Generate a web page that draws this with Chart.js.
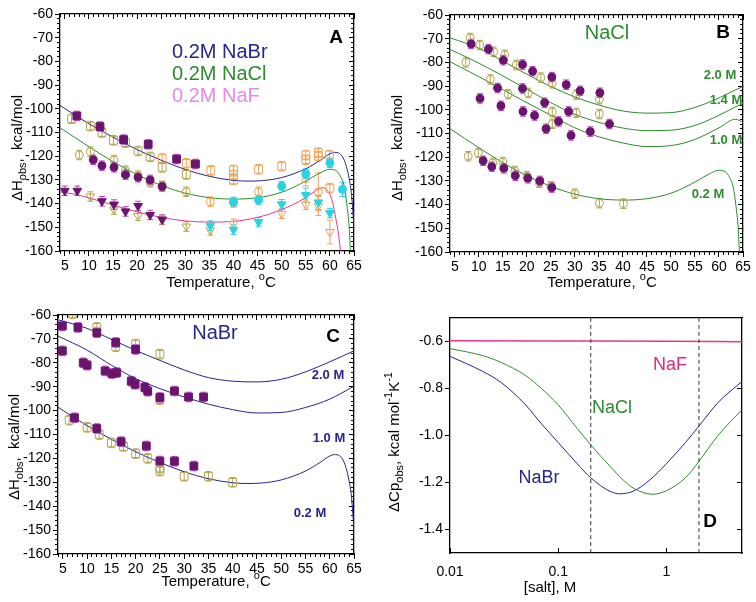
<!DOCTYPE html>
<html>
<head>
<meta charset="UTF-8">
<title>ΔH obs vs temperature and salt</title>
<script src="https://cdn.jsdelivr.net/npm/chart.js"></script>
<style>
  body { margin: 0; background: #fff; }
  #wrap { position: relative; width: 756px; height: 602px; }
  canvas { position: absolute; }
  canvas.over { pointer-events: none; }
</style>
</head>
<body>
<div id="wrap">
  <canvas id="cA" width="378" height="301" style="left:0;top:0"></canvas>
  <canvas id="cB" width="378" height="301" style="left:378px;top:0"></canvas>
  <canvas id="cC" width="378" height="301" style="left:0;top:301px"></canvas>
  <canvas id="cD" width="378" height="301" style="left:378px;top:301px"></canvas>
  <canvas id="oA" class="over" width="378" height="301" style="left:0;top:0"></canvas>
  <canvas id="oB" class="over" width="378" height="301" style="left:378px;top:0"></canvas>
  <canvas id="oC" class="over" width="378" height="301" style="left:0;top:301px"></canvas>
  <canvas id="oD" class="over" width="378" height="301" style="left:378px;top:301px"></canvas>
</div>
<script>
// ---- axes ----
const tempTicks = [5, 10, 15, 20, 25, 30, 35, 40, 45, 50, 55, 60, 65];
const dhTicks = [-160, -150, -140, -130, -120, -110, -100, -90, -80, -70, -60];
const saltTicks = [0.01, 0.1, 1];
const cpTicks = [-1.4, -1.2, -1.0, -0.8, -0.6];

// ---- panel A : 0.2 M salts, points [T, dH, err] ----
const brFilled = [[7.5,-103],[12.3,-107.5],[17.2,-113],[22.3,-115],[28.2,-121.2],[32.1,-123.3]];
const brOpen = [[6.4,-104.2],[10.3,-107.3],[12.7,-110],[15.1,-113.3],[17.6,-114.3],[20.2,-117.8],[22.7,-120.3],[25.2,-124.7],[30.2,-127.7]];
const brHigh = [[25.2,-121],[30.2,-123],[35.3,-126],[40,-125.8],[40,-127.9],[40,-130],[45.2,-125.5],[50,-124.2],[55,-119.5],[55,-121.5],[57.6,-118.5],[57.6,-120],[59.9,-119.5],[60,-133.5]];
const clFilled = [[10.9,-121.5],[12.7,-124],[15.2,-124.7],[17.6,-127.8],[20.2,-128.9],[22.7,-130],[25.2,-132.8]];
const clOpen = [[8,-119.5],[10.3,-118.1],[15.2,-121.6],[17.6,-126.1],[20.2,-128.2],[22.7,-131],[25.2,-132.5],[30.2,-135]];
const clHigh = [[35.2,-139.2],[40,-139.5],[45.2,-135],[55,-129.5,3],[57.6,-135,8]];
const clCyan = [[40,-139.3],[45.2,-138.5],[50,-132.6],[55,-127.4],[60,-122.8],[62.6,-134,3]];
const fFilled = [[5,-134.6],[7.6,-134.6],[12.7,-139],[15.2,-140.4],[17.6,-143.3],[20.2,-141],[22.7,-144.8],[25.2,-146.7]];
const fOpen = [[10.3,-137],[15.2,-142.5],[20.2,-145.2],[25.2,-146.9],[30.2,-149.7],[35.2,-151.3]];
const fCyan = [[35.2,-149.3],[40,-151],[45.2,-147.8],[50,-140.3],[55,-136.4,3],[57.6,-139.5,3],[60,-144]];
const fHigh = [[40,-148.5],[50,-144.3],[55,-140.5],[57.6,-141,4],[60,-152,5]];

// fitted curves
const brCurveT = [4,7,10,15,20,25,30,35,40,43,46,50,55,58,60,61,62,63,64,64.5,65];
const brCurve02 = [-98.6,-102.5,-106.3,-112,-117.2,-121.7,-125.6,-128.5,-130.2,-130.5,-130.3,-129,-125.3,-121.7,-119,-118.4,-118.9,-121.8,-129.5,-136.5,-150];
const clCurveT = [4,7,10,15,20,25,30,35,40,45,50,55,58,60,61,62,63,63.5,64,64.3];
const clCurve02 = [-108,-112,-116,-122.3,-127.8,-132.3,-135.6,-137.5,-138.1,-137.5,-135.2,-130.5,-127,-125.5,-125.8,-127.8,-133,-140,-150,-162];
const fCurveT = [4,7,10,15,20,25,30,35,40,45,50,55,57,58.5,59.5,60.5,61.2,61.8,62.3];
const fCurve02 = [-135,-136,-137.6,-140.6,-143.5,-145.8,-147.3,-147.8,-147.5,-145.8,-142.5,-137.5,-134.6,-133.3,-134.5,-139,-146,-153,-162];

// ---- panel B : NaCl ----
const bFilled = [[8.4,-72.2],[12,-74.4],[15.1,-79.1],[19.1,-80.9],[21.2,-83.7],[25.2,-86.2],[28.2,-89.4],[31.1,-92],[35.2,-92.8],
  [10.25,-95.2],[13.9,-90.8],[14.6,-98.3],[19.1,-91],[19.2,-100.7],[21.6,-102.4],[23.7,-97],[26.6,-104.9],[28.7,-100.7],[24,-108],[29.2,-110.8],[33.2,-109.2],[37.2,-106]];
const bOpen = [[7.3,-80],[8.2,-69.7],[10.2,-72.7],[12.4,-87.2],[13.1,-75.5],[16.1,-93.4],[15.4,-76.8],[17.8,-81.1],[20.3,-92.9],[22.9,-86.4],[25.3,-88.8],[25.3,-100.9],[25.3,-105.9],[30.3,-93.6],[30.3,-101.3],[35.1,-95.5],[35.1,-101.8]];
const bLowOpen = [[7.8,-119.6],[9.9,-118.2],[12.9,-122.4],[15,-122],[17.5,-125.8],[20,-128],[22.6,-130.8],[25,-132.3],[30,-135.4],[35.1,-139.4],[40.1,-139.6]];
const bCurveT = [4,10,15,20,25,30,35,40,45,50,55,60,63.4,65];
const bCurve20 = [-69.6,-74,-79.5,-85,-90.2,-94.6,-98,-100.5,-101.4,-101.2,-99,-95,-91.6,-90.2];
const bCurve14 = [-74.5,-80.3,-85.7,-91.3,-97,-101.9,-105.3,-107.7,-108.8,-108.6,-106.6,-102.3,-98.8,-97.3];
const bCurve10 = [-79.7,-86,-91.5,-97,-102.3,-107.6,-111.4,-114,-115.5,-115.1,-112.5,-107.6,-104,-105.2];

// ---- panel C : NaBr ----
const cFilled = [[4.9,-64.6],[8.1,-65.2],[12,-67.4],[15.9,-71.5],[20,-74.4],[4.9,-75],[9.2,-80],[10,-81],[13.7,-83.4],[15.1,-84.5],[16.1,-84.1],
  [19.1,-87.7],[19.9,-89],[21.9,-90.3],[22.5,-91.9],[25,-94.5],[28,-91.8],[30.9,-94.3],[34,-94.3]];
const cOpen = [[7,-59.5],[12,-65.2],[15.9,-73.3],[20,-72.2],[25,-76.4],[25,-95.4]];
const cLowFilled = [[7.4,-103],[12,-107.5],[17,-113],[22.2,-114.8],[25,-121.1],[28,-121.2],[32,-123.2]];
const cLowOpen = [[6.3,-104],[10,-107],[12.5,-110],[15,-113.5],[17.5,-115],[20,-118],[22.5,-120],[25,-124],[25,-125.3],[30,-127.5],[35,-127.5],[40,-130]];
const cCurveT = [4,10,15,20,25,30,35,40,45,50,55,60,65];
const cCurve20 = [-62,-65.6,-70.2,-74.8,-79,-83,-86.2,-87.7,-88,-86.9,-83.8,-79.6,-75];
const cCurve10 = [-68.8,-74.7,-81,-86.6,-90.8,-94.3,-97.3,-99.6,-101,-100.8,-98.7,-95.2,-89.8];

// ---- panel D : dCp vs [salt] ----
const saltBr = [0.01,0.02,0.03,0.05,0.07,0.1,0.15,0.2,0.3,0.37,0.5,0.7,1,1.5,2,3,5];
const cpBr = [-0.663,-0.727,-0.776,-0.87,-0.95,-1.03,-1.12,-1.18,-1.237,-1.248,-1.236,-1.19,-1.12,-1.03,-0.96,-0.86,-0.77];
const saltCl = [0.01,0.02,0.03,0.05,0.07,0.1,0.15,0.2,0.3,0.4,0.5,0.75,1,1.5,2,3,5];
const cpCl = [-0.63,-0.66,-0.69,-0.745,-0.8,-0.87,-0.97,-1.04,-1.13,-1.19,-1.225,-1.25,-1.235,-1.18,-1.11,-1.0,-0.89];
const saltF = [0.01, 0.1, 1, 5];
const cpF = [-0.597, -0.598, -0.599, -0.601];
const saltMarks = [0.2, 2];

// ---- styling ----
const FONT = '"Liberation Sans", Arial, sans-serif';
const NAVY = '#25258c', GREEN = '#2c8c2c', PINK = '#e8358e';
const PURPLE = '#6a1470', PURPLE_ERR = '#c040c0', OLIVE = '#b5a550', ORANGE = '#f2a255', CYAN = '#2ad2e2';
const W = 378, H = 301;

Chart.defaults.font.family = FONT;
Chart.defaults.color = '#000';

const pts = arr => arr.map(([x, y, e]) => ({x, y, e: e ?? 2}));
const line = (xs, ys) => xs.map((x, i) => ({x, y: ys[i]}));

function marks(arr, style, color, filled, errColor) {
  return {
    data: pts(arr), xAxisID: 'x', yAxisID: 'y', showLine: false, pointStyle: style,
    pointRotation: style === 'triangle' ? 180 : 0,
    pointRadius: style === 'rect' ? 5.5 : style === 'circle' ? 4 : 5,
    borderColor: color, backgroundColor: filled ? color : 'rgba(255,255,255,0)',
    borderWidth: 1, errColor: errColor || color
  };
}
function curve(xs, ys, color, w, dash) {
  return {
    data: line(xs, ys), xAxisID: 'x', yAxisID: 'y', showLine: true, pointRadius: 0, borderColor: color,
    borderWidth: w || 1, borderDash: dash || [], cubicInterpolationMode: 'monotone'
  };
}

// error bars under the markers
const errorBars = {
  id: 'errorBars',
  beforeDatasetsDraw(chart) {
    const {ctx, chartArea: a, scales: {y}} = chart;
    ctx.save();
    ctx.beginPath(); ctx.rect(a.left, a.top, a.width, a.height); ctx.clip();
    chart.data.datasets.forEach((ds, i) => {
      if (!ds.errColor) return;
      ctx.strokeStyle = ds.errColor; ctx.lineWidth = 1;
      ctx.beginPath();
      chart.getDatasetMeta(i).data.forEach((el, j) => {
        const d = ds.data[j];
        const y1 = y.getPixelForValue(d.y + d.e), y2 = y.getPixelForValue(d.y - d.e);
        ctx.moveTo(el.x, y1); ctx.lineTo(el.x, y2);
        ctx.moveTo(el.x - 3, y1); ctx.lineTo(el.x + 3, y1);
        ctx.moveTo(el.x - 3, y2); ctx.lineTo(el.x + 3, y2);
      });
      ctx.stroke();
    });
    ctx.restore();
  }
};

function drawRich(ctx, it) {
  const segs = typeof it.text === 'string' ? [{t: it.text}] : it.text;
  const size = it.size || 15, weight = it.bold ? 'bold ' : '';
  const fontFor = s => weight + (s.sub || s.sup ? Math.round(size * 0.7) : size) + 'px ' + FONT;
  let w = 0;
  const widths = segs.map(s => { ctx.font = fontFor(s); const m = ctx.measureText(s.t).width; w += m; return m; });
  ctx.save();
  ctx.translate(it.x, it.y);
  if (it.rotate) ctx.rotate(-Math.PI / 2);
  ctx.fillStyle = it.color || '#000';
  ctx.textBaseline = 'middle';
  let cx = it.align === 'left' ? 0 : -w / 2;
  segs.forEach((s, i) => {
    ctx.font = fontFor(s);
    const dy = s.sub ? size * 0.32 : s.sup ? -size * 0.38 : 0;
    ctx.fillText(s.t, cx, dy);
    cx += widths[i];
  });
  ctx.restore();
}

function steps(lo, hi, step) {
  const out = [];
  for (let v = lo; v <= hi + 1e-9; v += step) out.push(Math.round(v * 100) / 100);
  return out;
}

// The frame and its ticks come from Chart.js axes: the main axes draw the
// bottom/left edges with outward ticks; zero-size extra axes draw the
// top/right edges (inward ticks) and the short minor ticks.
function buildScales(c) {
  const set = list => s => { s.ticks = list.map(v => ({value: v})); };
  const marksOf = len => ({display: true, drawOnChartArea: false, drawTicks: true, tickLength: len, color: '#000', lineWidth: 1});
  const edge = {display: true, color: '#000', width: 1.3};
  const off = {display: false};
  const h0 = s => { s.height = 0; }, w0 = s => { s.width = 0; };
  const xr = {type: c.xType, min: c.xMin, max: c.xMax};
  const yr = {type: 'linear', min: c.yMin, max: c.yMax};
  const xTicks = {padding: c.xPad, font: {size: 14}, maxRotation: 0};
  if (c.xFmt) xTicks.callback = c.xFmt;
  const yTicks = {padding: 2, font: {size: 14}};
  if (c.yFmt) yTicks.callback = c.yFmt;
  const sc = {
    x: Object.assign({}, xr, {position: 'bottom', weight: 10, afterBuildTicks: set(c.xMajor), ticks: xTicks,
        grid: marksOf(c.xLen), border: edge, afterFit: s => { s.height = H - c.box.bottom; }}),
    y: Object.assign({}, yr, {position: 'left', weight: 10, afterBuildTicks: set(c.yMajor), ticks: yTicks,
        grid: marksOf(5), border: edge, afterFit: s => { s.width = c.box.left; }}),
    x2: Object.assign({}, xr, {position: 'top', afterBuildTicks: set(c.xMajor), ticks: off,
        grid: c.topTicks ? marksOf(-5) : off, border: edge, afterFit: h0}),
    y2: Object.assign({}, yr, {position: 'right', afterBuildTicks: set(c.yMajor), ticks: off,
        grid: marksOf(-5), border: edge, afterFit: w0})
  };
  if (c.xMinor) {
    sc.xm = Object.assign({}, xr, {position: 'bottom', weight: 0, afterBuildTicks: set(c.xMinor), ticks: off,
        grid: marksOf(3), border: off, afterFit: h0});
    sc.x2m = Object.assign({}, xr, {position: 'top', weight: 0, afterBuildTicks: set(c.xMinor), ticks: off,
        grid: marksOf(-3), border: off, afterFit: h0});
  }
  if (c.yMinor) {
    sc.ym = Object.assign({}, yr, {position: 'left', weight: 0, afterBuildTicks: set(c.yMinor), ticks: off,
        grid: marksOf(3), border: off, afterFit: w0});
    sc.y2m = Object.assign({}, yr, {position: 'right', weight: 0, afterBuildTicks: set(c.yMinor), ticks: off,
        grid: marksOf(-3), border: off, afterFit: w0});
  }
  return sc;
}

function makeChart(id, box, datasets, axisCfg, items) {
  axisCfg.box = box;
  const chart = new Chart(document.getElementById('c' + id), {
    type: 'scatter',
    data: {datasets},
    options: {
      responsive: false, animation: false, events: [],
      layout: {padding: {left: 0, top: box.top, right: W - box.right, bottom: 0}},
      plugins: {legend: {display: false}, tooltip: {enabled: false}},
      scales: buildScales(axisCfg)
    },
    plugins: [errorBars]
  });
  // axis titles and in-plot labels on a transparent layer above the chart
  const octx = document.getElementById('o' + id).getContext('2d');
  items.forEach(it => drawRich(octx, it));
  return chart;
}

const tempAxes = () => ({
  xType: 'linear', xMin: 4, xMax: 65, yMin: -160, yMax: -60,
  xMajor: tempTicks, xMinor: steps(4, 65, 1), yMajor: dhTicks, yMinor: steps(-160, -60, 2),
  xPad: 2, xLen: 5, topTicks: true
});

const dhTitle = (x, y) => ({x, y, rotate: true, size: 15,
  text: [{t: 'ΔH'}, {t: 'obs', sub: true}, {t: ',  kcal/mol'}]});
const tTitle = (x, y) => ({x, y, size: 15,
  text: [{t: 'Temperature, '}, {t: 'o', sup: true}, {t: 'C'}]});

// Panel A
makeChart('A', {left: 60, top: 14, right: 354, bottom: 251}, [
  marks(fFilled, 'triangle', PURPLE, true, PURPLE_ERR),
  marks(clFilled, 'circle', PURPLE, true, PURPLE_ERR),
  marks(brFilled, 'rect', PURPLE, true, PURPLE_ERR),
  marks(fCyan, 'triangle', CYAN, true),
  marks(clCyan, 'circle', CYAN, true),
  marks(fOpen, 'triangle', OLIVE, false),
  marks(clOpen, 'circle', OLIVE, false),
  marks(brOpen, 'rect', OLIVE, false),
  marks(fHigh, 'triangle', ORANGE, false),
  marks(clHigh, 'circle', ORANGE, false),
  marks(brHigh, 'rect', ORANGE, false),
  curve(brCurveT, brCurve02, NAVY),
  curve(clCurveT, clCurve02, GREEN),
  curve(fCurveT, fCurve02, PINK)
], tempAxes(), [
  dhTitle(18, 148), tTitle(221, 283),
  {text: '0.2M NaBr', x: 172, y: 52, size: 20, color: NAVY, align: 'left'},
  {text: '0.2M NaCl', x: 172, y: 74, size: 20, color: GREEN, align: 'left'},
  {text: '0.2M NaF', x: 172, y: 96, size: 20, color: '#e888e8', align: 'left'},
  {text: 'A', x: 336, y: 38, size: 19, bold: true}
]);

// Panel B
makeChart('B', {left: 72, top: 15, right: 365, bottom: 252}, [
  marks(clFilled, 'circle', PURPLE, true, PURPLE_ERR),
  marks(bFilled, 'circle', PURPLE, true, PURPLE_ERR),
  marks(bLowOpen, 'circle', OLIVE, false),
  marks(bOpen, 'circle', OLIVE, false),
  curve(bCurveT, bCurve20, GREEN),
  curve(bCurveT, bCurve14, GREEN),
  curve(bCurveT, bCurve10, GREEN),
  curve(clCurveT, clCurve02, GREEN)
], tempAxes(), [
  dhTitle(20, 148), tTitle(224, 283),
  {text: 'NaCl', x: 229, y: 33, size: 20, color: GREEN},
  {text: 'B', x: 345, y: 33, size: 19, bold: true},
  {text: '2.0 M', x: 342, y: 75, size: 13, bold: true, color: GREEN},
  {text: '1.4 M', x: 348, y: 100, size: 13, bold: true, color: GREEN},
  {text: '1.0 M', x: 348, y: 140, size: 13, bold: true, color: GREEN},
  {text: '0.2 M', x: 330, y: 194, size: 13, bold: true, color: GREEN}
]);

// Panel C
makeChart('C', {left: 58, top: 14, right: 354, bottom: 253}, [
  marks(cLowFilled, 'rect', PURPLE, true, PURPLE_ERR),
  marks(cFilled, 'rect', PURPLE, true, PURPLE_ERR),
  marks(cLowOpen, 'rect', OLIVE, false),
  marks(cOpen, 'rect', OLIVE, false),
  curve(cCurveT, cCurve20, NAVY),
  curve(cCurveT, cCurve10, NAVY),
  curve(brCurveT, brCurve02, NAVY)
], tempAxes(), [
  dhTitle(15, 146), tTitle(216, 281),
  {text: 'NaBr', x: 215, y: 32, size: 20, color: NAVY},
  {text: 'C', x: 333, y: 36, size: 19, bold: true},
  {text: '2.0 M', x: 328, y: 74, size: 13, bold: true, color: NAVY},
  {text: '1.0 M', x: 329, y: 137, size: 13, bold: true, color: NAVY},
  {text: '0.2 M', x: 310, y: 212, size: 13, bold: true, color: NAVY}
]);

// Panel D
const dashed = saltMarks.map(s => curve([s, s], [-1.5, -0.5], '#333', 1, [4, 3]));
makeChart('D', {left: 72, top: 17, right: 364, bottom: 252}, [
  ...dashed,
  curve(saltF, cpF, PINK, 1.5),
  curve(saltCl, cpCl, GREEN),
  curve(saltBr, cpBr, NAVY)
], {
  xType: 'logarithmic', xMin: 0.01, xMax: 5, yMin: -1.5, yMax: -0.5,
  xMajor: saltTicks, yMajor: cpTicks, xPad: 16, xLen: -5, topTicks: false,
  xFmt: v => String(v), yFmt: v => v.toFixed(1)
}, [
  {x: 17, y: 141, rotate: true, size: 15,
   text: [{t: 'ΔCp'}, {t: 'obs', sub: true}, {t: ', kcal mol'}, {t: '-1', sup: true}, {t: 'K'}, {t: '-1', sup: true}]},
  {text: '[salt], M', x: 172, y: 287, size: 15},
  {text: 'NaF', x: 292, y: 64, size: 18, color: '#e5267f'},
  {text: 'NaCl', x: 234, y: 107, size: 18, color: GREEN},
  {text: 'NaBr', x: 161, y: 177, size: 18, color: NAVY},
  {text: 'D', x: 332, y: 221, size: 19, bold: true}
]);
</script>
</body>
</html>
